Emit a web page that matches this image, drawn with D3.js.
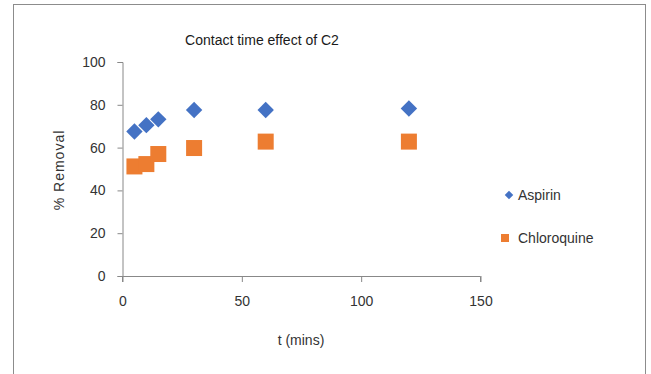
<!DOCTYPE html>
<html><head><meta charset="utf-8">
<script src="https://cdn.jsdelivr.net/npm/d3@7"></script>
<style>body{margin:0;background:#fff}svg{display:block}text{font-family:"Liberation Sans",Arial,sans-serif}</style>
</head><body>
<script>
const times = [5, 10, 15, 30, 60, 120];
const aspirin = [67.5, 70.5, 73.2, 77.6, 77.6, 78.3];
const chloroquine = [51.2, 52.3, 57.0, 59.8, 62.8, 62.8];
const seriesNames = ["Aspirin", "Chloroquine"];
const xTicks = [0, 50, 100, 150];
const yTicks = [0, 20, 40, 60, 80, 100];
const title = "Contact time effect of C2";
const xTitle = "t (mins)";
const yTitle = "% Removal";

const W = 651, H = 374;
const svg = d3.select("body").append("svg").attr("width", W).attr("height", H);
svg.append("rect").attr("x", 13.5).attr("y", 4.5).attr("width", 632).attr("height", 380)
  .attr("fill", "#fff").attr("stroke", "#8c8c8c").attr("stroke-width", 1);

const x = d3.scaleLinear().domain([0, 150]).range([122.5, 480.5]);
const y = d3.scaleLinear().domain([0, 100]).range([276, 62]);
const axisColor = "#888", labelColor = "#333";

const xa = svg.append("g").attr("transform", "translate(0,276)")
  .call(d3.axisBottom(x).tickValues(xTicks).tickSize(6).tickPadding(14).tickFormat(d3.format("d")));
const ya = svg.append("g").attr("transform", "translate(122.5,0)")
  .call(d3.axisLeft(y).tickValues(yTicks).tickSize(5).tickPadding(12).tickFormat(d3.format("d")));
[xa, ya].forEach(g => {
  g.select(".domain").attr("stroke", axisColor);
  g.selectAll(".tick line").attr("stroke", axisColor);
  g.selectAll(".tick text").attr("fill", labelColor).style("font-size", "14px");
});
ya.select(".domain").attr("d", "M-5,62.5H0.5V276.5H-5");
xa.select(".domain").attr("d", "M122.5,6V0.5H480.5V6");

svg.append("text").attr("x", 262).attr("y", 45).attr("text-anchor", "middle")
  .style("font-size", "14px").attr("fill", "#1a1a1a").text(title);
svg.append("text").attr("x", 301).attr("y", 345).attr("text-anchor", "middle")
  .style("font-size", "14px").attr("fill", labelColor).text(xTitle);
svg.append("text").attr("transform", "translate(64,170) rotate(-90)").attr("text-anchor", "middle")
  .style("font-size", "14px").style("letter-spacing", "1px").attr("fill", labelColor).text(yTitle);

const colors = ["#4472C4", "#ED7D31"];

// Chloroquine squares
svg.append("g").selectAll("rect").data(times.map((t, i) => [t, chloroquine[i]])).join("rect")
  .attr("x", d => x(d[0]) - 8).attr("y", d => y(d[1]) - 8).attr("width", 16).attr("height", 16)
  .attr("fill", colors[1]);
// Aspirin diamonds
svg.append("g").selectAll("path").data(times.map((t, i) => [t, aspirin[i]])).join("path")
  .attr("transform", d => `translate(${x(d[0])},${y(d[1])}) rotate(45)`)
  .attr("d", "M-5.8,-5.8H5.8V5.8H-5.8Z").attr("fill", colors[0]);

// Legend
const leg = svg.append("g");
leg.append("path").attr("transform", "translate(509,195) rotate(45)").attr("d", "M-3,-3H3V3H-3Z").attr("fill", colors[0]);
leg.append("rect").attr("x", 501).attr("y", 234).attr("width", 8).attr("height", 8).attr("fill", colors[1]);
[[seriesNames[0], 195], [seriesNames[1], 238]].forEach(([n, yy]) => {
  leg.append("text").attr("x", 518).attr("y", yy + 5).style("font-size", "14px").attr("fill", labelColor).text(n);
});
</script>
</body></html>
